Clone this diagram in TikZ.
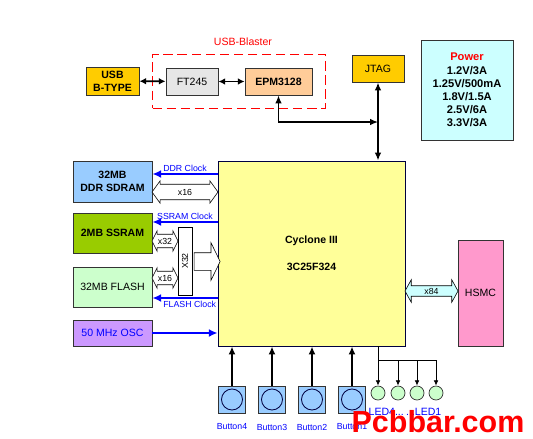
\documentclass[tikz,border=0pt]{standalone}
\usepackage{fontspec}
\setmainfont{Liberation Sans}
\usetikzlibrary{positioning,arrows.meta,shapes.arrows,fit}
\definecolor{oroUsb}{HTML}{FFCC00}
\definecolor{grisFt}{HTML}{E6E6E6}
\definecolor{durazno}{HTML}{FFCC99}
\definecolor{celeste}{HTML}{CCFFFF}
\definecolor{amarillo}{HTML}{FFFF99}
\definecolor{azulMem}{HTML}{99CCFF}
\definecolor{verdeSram}{HTML}{99CC00}
\definecolor{verdeFlash}{HTML}{CCFFCC}
\definecolor{lila}{HTML}{CC99FF}
\definecolor{rosa}{HTML}{FF99CC}
\definecolor{azulClk}{HTML}{0000FF}
\definecolor{rojoUsb}{HTML}{FF0000}
\definecolor{borde}{HTML}{333333}
\definecolor{marino}{HTML}{000040}
\tikzset{
  bloque/.style={rectangle, draw=borde, line width=0.8pt, inner sep=1pt,
    align=center, font=\fontsize{9}{11}\selectfont},
  negrita/.style={font=\fontsize{9}{11}\selectfont\bfseries},
  memoria/.style={bloque, minimum width=2.37cm, minimum height=1.2cm},
  grupo/.style={rectangle, draw=rojoUsb, line width=1.1pt,
    dash pattern=on 8pt off 4pt, inner sep=0.39cm},
  busDoble/.style={double arrow, draw=black, line width=0.5pt, fill=white,
    text height=5.5pt, text depth=0pt, inner xsep=0pt,
    font=\fontsize{7.5}{8}\selectfont},
  busSimple/.style={single arrow, draw=black, line width=0.5pt, fill=white,
    inner xsep=0pt},
  troncal/.style={rectangle, draw=black, line width=0.5pt, fill=white,
    inner sep=0pt, font=\fontsize{7.5}{8}\selectfont},
  flechaClk/.style={-{Latex[length=2.6mm,width=2.4mm]}, line width=1.8pt, azulClk},
  flechaUsb/.style={{Latex[length=2mm,width=2mm]}-{Latex[length=2mm,width=2mm]},
    line width=1.6pt},
  flechaJtag/.style={{Latex[length=2.4mm,width=2mm]}-{Latex[length=2.4mm,width=2mm]}},
  flechaBoton/.style={-{Latex[length=2.4mm,width=2.1mm]}, line width=1.8pt},
  flechaLed/.style={-{Latex[length=1.6mm,width=1.4mm]}, line width=0.7pt},
  textoClk/.style={text=azulClk, font=\fontsize{7.5}{8}\selectfont, inner sep=1.5pt},
  textoAzul/.style={text=azulClk, font=\fontsize{7.5}{8}\selectfont},
  boton/.style={rectangle, draw=borde, fill=azulMem, minimum size=0.81cm,
    line width=0.7pt},
  perilla/.style={circle, draw=marino, fill=azulMem, minimum size=0.63cm,
    inner sep=0pt, line width=0.7pt},
  led/.style={circle, draw=borde, fill=verdeFlash, minimum size=0.42cm,
    inner sep=0pt, line width=0.6pt},
}

\begin{document}
\begin{tikzpicture}[x=0.03cm, y=-0.03cm]
    \useasboundingbox (0,0) rectangle (533,438);
    % programador USB
    \node[bloque, negrita, fill=oroUsb, minimum width=1.59cm, minimum height=0.84cm] (usb) at (112.5,81) {USB\\B-TYPE};
    \node[bloque, fill=grisFt, minimum width=1.56cm, minimum height=0.81cm] (ft) at (192,81.5) {FT245};
    \node[bloque, negrita, fill=durazno, minimum width=2.01cm, minimum height=0.81cm] (epm) at (278.5,81.5) {EPM3128};
    \node[grupo, fit=(ft)(epm)] (blaster) {};
    \node[text=rojoUsb, font=\fontsize{9}{11}\selectfont] (tBlaster) at (243,42) {USB-Blaster};
    \node[bloque, fill=oroUsb, minimum width=1.56cm, minimum height=0.81cm] (jtag) at (378,68.5) {JTAG};
    \node[bloque, negrita, fill=celeste, minimum width=2.76cm, minimum height=3.0cm, font=\fontsize{9.5}{11.2}\selectfont\bfseries] (pwr) at (467,90)
      {\textcolor{rojoUsb}{Power}\\1.2V/3A\\1.25V/500mA\\1.8V/1.5A\\2.5V/6A\\3.3V/3A};
    % FPGA y memorias
    \node[bloque, negrita, draw=marino, fill=amarillo, minimum width=5.61cm, minimum height=5.55cm] (fpga) at (311.5,253.5) {Cyclone III\\[12pt]3C25F324};
    \node[memoria, negrita, fill=azulMem, minimum height=1.23cm] (ddr) at (112.5,181.5) {32MB\\DDR SDRAM};
    \node[memoria, negrita, fill=verdeSram] (sram) at (112.5,233) {2MB SSRAM};
    \node[memoria, fill=verdeFlash] (flash) at (112.5,287) {32MB FLASH};
    \node[memoria, fill=lila, text=azulClk, minimum height=0.78cm] (osc) at (112.5,333) {50 MHz OSC};
    \node[bloque, draw=borde, fill=rosa, minimum width=1.35cm, minimum height=3.18cm] (hsmc) at (480.5,293) {HSMC};
    % buses
    \node[busDoble, minimum height=1.98cm, inner ysep=3.6pt, double arrow head extend=0.105cm, double arrow tip angle=108] (bDdr) at (185,192) {x16};
    \node[troncal, rotate=90, minimum width=2.04cm, minimum height=0.42cm] (tr) at (185,261) {X32};
    \node[busDoble, minimum height=0.78cm, inner ysep=2.75pt, double arrow head extend=0.105cm, double arrow tip angle=127] (bSram) at (165,241) {x32};
    \node[busDoble, minimum height=0.78cm, inner ysep=2.75pt, double arrow head extend=0.105cm, double arrow tip angle=127] (bFlash) at (165,278) {x16};
    \node[busSimple, minimum height=0.78cm, inner ysep=7.25pt, single arrow head extend=0.3cm, single arrow tip angle=128] (bFpga) at (205,261.5) {};
    \node[busDoble, fill=celeste, minimum height=1.59cm, inner ysep=1.5pt, double arrow head extend=0.18cm, double arrow tip angle=122] (bHsmc) at (431.5,291) {x84};
    % conexiones
    \draw[flechaUsb] (usb) -- (ft);
    \draw[flechaUsb] (ft) -- (epm);
    \coordinate (cruce) at (jtag.south |- 0,122);
    \draw[flechaJtag, line width=1.2pt] (epm.south) |- (cruce);
    \draw[flechaJtag, line width=1.8pt] (jtag.south) -- (jtag.south |- fpga.north);
    \draw[flechaClk] (fpga.west |- 0,174) -- node[textoClk, above] {DDR Clock} (ddr.east |- 0,174);
    \draw[flechaClk] (fpga.west |- 0,222) -- node[textoClk, above] {SSRAM Clock} (sram.east |- 0,222);
    \draw[flechaClk] (fpga.west |- 0,298) -- node[textoClk, below, xshift=4pt] {FLASH Clock} (flash.east |- 0,298);
    \draw[flechaClk] (osc) -- (fpga.west |- osc);
    % botones
    \node[boton] (b4) at (232,399.5) {};
    \node[boton] (b3) at (272,399.5) {};
    \node[boton] (b2) at (312,399.5) {};
    \node[boton] (b1) at (352,399.5) {};
    \node[perilla] (p4) at (b4) {};
    \node[perilla] (p3) at (b3) {};
    \node[perilla] (p2) at (b2) {};
    \node[perilla] (p1) at (b1) {};
    \node[textoAzul] (t4) at (232,427) {Button4};
    \node[textoAzul] (t3) at (272,427) {Button3};
    \node[textoAzul] (t2) at (312,427) {Button2};
    \node[textoAzul] (t1) at (352,427) {Button1};
    \draw[flechaBoton] (b4) -- (b4 |- fpga.south);
    \draw[flechaBoton] (b3) -- (b3 |- fpga.south);
    \draw[flechaBoton] (b2) -- (b2 |- fpga.south);
    \draw[flechaBoton, line width=2.4pt] (b1) -- (b1 |- fpga.south);
    % leds
    \node[led] (l4) at (378,393) {};
    \node[led] (l3) at (398,393) {};
    \node[led] (l2) at (417,393) {};
    \node[led] (l1) at (436,393) {};
    \node[text=azulClk, font=\fontsize{9}{11}\selectfont] (tLed) at (405,412) {LED4...\hspace{2pt}...LED1};
    \draw[flechaLed] (l4 |- fpga.south) -- (l4);
    \draw[flechaLed] (l4 |- 0,360) -| (l3);
    \draw[flechaLed] (l4 |- 0,360) -| (l2);
    \draw[flechaLed] (l4 |- 0,360) -| (l1);
    % marca
    \node[text=rojoUsb, font=\fontsize{26}{28}\selectfont\bfseries] (marca) at (438,422) {Pcbbar.com};
\end{tikzpicture}
\end{document}
